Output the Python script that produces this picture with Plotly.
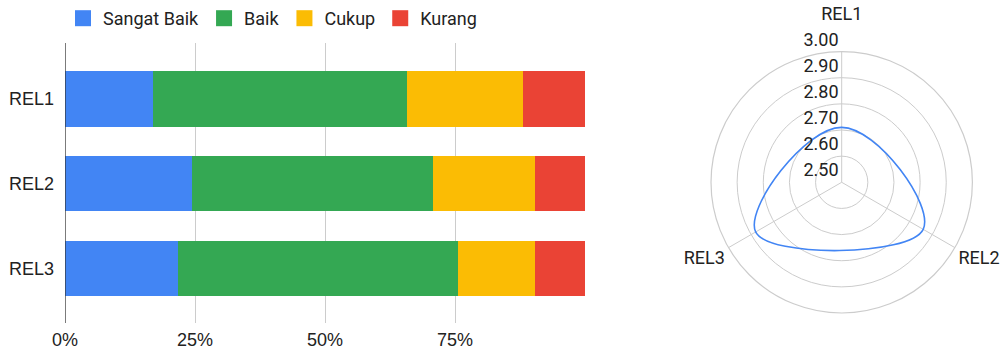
import plotly.graph_objects as go

# Item labels and response shares (percent) per rating
items = ["REL1", "REL2", "REL3"]
sangat_baik = [17.0, 24.4, 21.8]
baik = [48.7, 46.4, 53.7]
cukup = [22.3, 19.5, 14.8]
kurang = [12.0, 9.7, 9.7]

# Mean scores per item for the radar view
mean_scores = [2.71, 2.86, 2.88]

x_ticks = [0, 25, 50, 75, 100]
x_tick_text = ["0%", "25%", "50%", "75%", ""]
radial_ticks = [2.5, 2.6, 2.7, 2.8, 2.9, 3.0]

series = [
    ("Sangat Baik", sangat_baik, "#4285F4"),
    ("Baik", baik, "#34A853"),
    ("Cukup", cukup, "#FBBC04"),
    ("Kurang", kurang, "#EA4335"),
]

fig = go.Figure()
for name, vals, color in series:
    fig.add_trace(go.Bar(
        y=items, x=vals, name=name, orientation="h",
        marker=dict(color=color, line=dict(width=0)),
        xaxis="x", yaxis="y", showlegend=False,
    ))
    # legend swatch
    fig.add_trace(go.Scatter(
        x=[None], y=[None], mode="markers", name=name,
        marker=dict(symbol="square", size=18, color=color),
        xaxis="x", yaxis="y", showlegend=True,
    ))

fig.add_trace(go.Scatterpolar(
    r=mean_scores + mean_scores[:1],
    theta=items + items[:1],
    mode="lines",
    line=dict(color="#4285F4", width=1.6, shape="spline", smoothing=1.3),
    showlegend=False,
    subplot="polar",
))

left_font = dict(family="Liberation Sans, Arial, sans-serif", size=18, color="#222222")
polar_font = dict(family="Roboto, Arial, sans-serif", size=18, color="#222222")

# radial labels sit just above their rings: an empty second line lifts them
radial_text = [f"{v:.2f}<br> " for v in radial_ticks]
angular_text = ["REL1<br> ", "REL2", "REL3"]

fig.update_layout(
    width=1000, height=351,
    margin=dict(l=0, r=0, t=0, b=0),
    paper_bgcolor="white", plot_bgcolor="white",
    barmode="stack", bargap=0.35,
    font=left_font,
    showlegend=True,
    legend=dict(
        orientation="h", x=0.063, y=1.0, xanchor="left", yanchor="top",
        font=dict(family="Roboto, Arial, sans-serif", size=18, color="#222222"),
        itemsizing="trace", traceorder="normal",
    ),
    xaxis=dict(
        domain=[0.065, 0.585], range=[0, 100],
        tickvals=x_ticks, ticktext=x_tick_text,
        showgrid=True, gridcolor="#cccccc", gridwidth=1,
        zeroline=False, showline=False, ticks="",
        tickfont=left_font, ticklabelstandoff=4,
        fixedrange=True, automargin=False,
    ),
    yaxis=dict(
        domain=[0.0798, 0.8775],
        type="category", categoryorder="array", categoryarray=items,
        range=[2.643, -0.661],
        showgrid=False, zeroline=False, showline=False, ticks="",
        tickfont=left_font, ticklabelstandoff=10, automargin=False,
    ),
    polar=dict(
        domain=dict(x=[0.711, 0.9724], y=[0.1083, 0.853]),
        bgcolor="white",
        radialaxis=dict(
            range=[2.5, 3.0], tickmode="array",
            tickvals=radial_ticks, ticktext=radial_text,
            angle=90, tickangle=90, side="counterclockwise",
            showline=False, ticks="",
            gridcolor="#cccccc", gridwidth=1.2,
            tickfont=polar_font,
        ),
        angularaxis=dict(
            direction="clockwise", rotation=90,
            categoryorder="array", categoryarray=items,
            tickmode="array", tickvals=items, ticktext=angular_text,
            showline=True, linecolor="#cccccc", linewidth=1.2,
            gridcolor="#cccccc", gridwidth=1.2, ticks="",
            tickfont=polar_font,
        ),
    ),
)

# Dark baseline at 0%
fig.add_shape(type="line", xref="x", yref="y domain", x0=0, x1=0, y0=0, y1=1,
              line=dict(color="#333333", width=1.3), layer="above")

fig.write_html("out.html")
